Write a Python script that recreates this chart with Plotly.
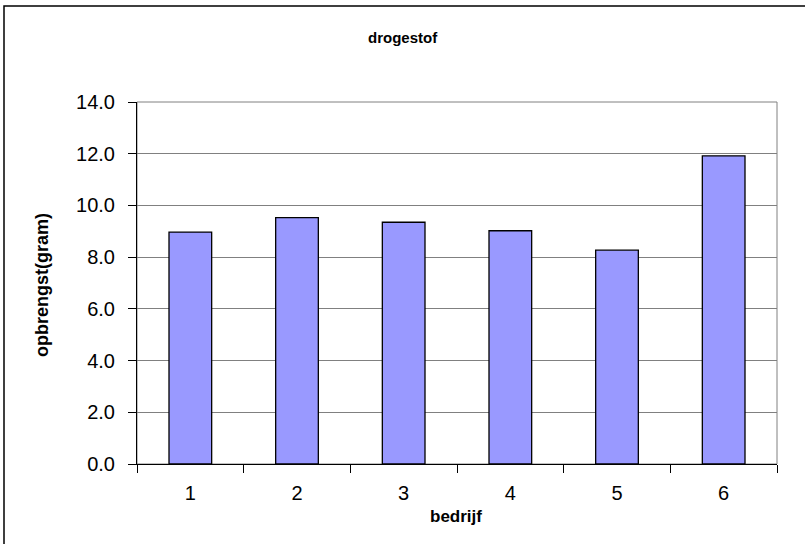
import plotly.graph_objects as go

categories = ["1", "2", "3", "4", "5", "6"]
values = [8.97, 9.53, 9.35, 9.02, 8.27, 11.92]
y_ticks = [0, 2, 4, 6, 8, 10, 12, 14]
y_tick_labels = ["0.0", "2.0", "4.0", "6.0", "8.0", "10.0", "12.0", "14.0"]

W, H = 805, 544
ML, MR, MT, MB = 137, 28, 102, 80
PW, PH = W - ML - MR, H - MT - MB

def px_x(px):
    return (px - ML) / PW

def px_y(py):
    return (H - MB - py) / PH

FONT = "Liberation Sans, Arial, sans-serif"

fig = go.Figure()
fig.add_trace(go.Bar(
    x=categories, y=values,
    marker=dict(color="#9999FF", line=dict(color="black", width=1.3)),
    width=0.4,
))

fig.update_layout(
    width=W, height=H,
    margin=dict(l=ML, r=MR, t=MT, b=MB),
    paper_bgcolor="white", plot_bgcolor="white",
    showlegend=False,
    font=dict(family=FONT, color="black"),
    xaxis=dict(
        type="category", tickson="boundaries", ticks="outside", ticklen=8,
        tickcolor="black", tickwidth=1, showline=True, linecolor="black", linewidth=1,
        showgrid=False, tickfont=dict(size=20, family=FONT), ticklabelstandoff=11,
        range=[-0.5, 5.5],
    ),
    yaxis=dict(
        range=[0, 14], tickvals=y_ticks, ticktext=y_tick_labels,
        ticks="outside", ticklen=8, tickcolor="black", tickwidth=1,
        showline=True, linecolor="black", linewidth=1,
        showgrid=True, gridcolor="#808080", gridwidth=1,
        tickfont=dict(size=20, family=FONT), zeroline=False,
        ticklabelstandoff=9,
    ),
    shapes=[
        dict(type="rect", xref="paper", yref="paper", x0=0, x1=1, y0=0, y1=1,
             line=dict(color="#808080", width=1), layer="below"),
        dict(type="rect", xref="paper", yref="paper",
             x0=px_x(4), x1=px_x(812), y0=px_y(552), y1=px_y(6),
             line=dict(color="black", width=1.5)),
    ],
    annotations=[
        dict(text="<b>drogestof</b>", xref="paper", yref="paper",
             x=px_x(403), y=px_y(37), showarrow=False,
             font=dict(size=15, family=FONT), xanchor="center", yanchor="middle"),
        dict(text="<b>bedrijf</b>", xref="paper", yref="paper",
             x=px_x(456), y=px_y(516), showarrow=False,
             font=dict(size=17, family=FONT), xanchor="center", yanchor="middle"),
        dict(text="<b>opbrengst(gram)</b>", xref="paper", yref="paper",
             x=px_x(42), y=px_y(285), showarrow=False, textangle=-90,
             font=dict(size=18, family=FONT), xanchor="center", yanchor="middle"),
    ],
)

fig.write_html("out.html", config={"displayModeBar": False},
               post_script="document.body.style.margin='0';document.body.style.overflow='hidden';")
